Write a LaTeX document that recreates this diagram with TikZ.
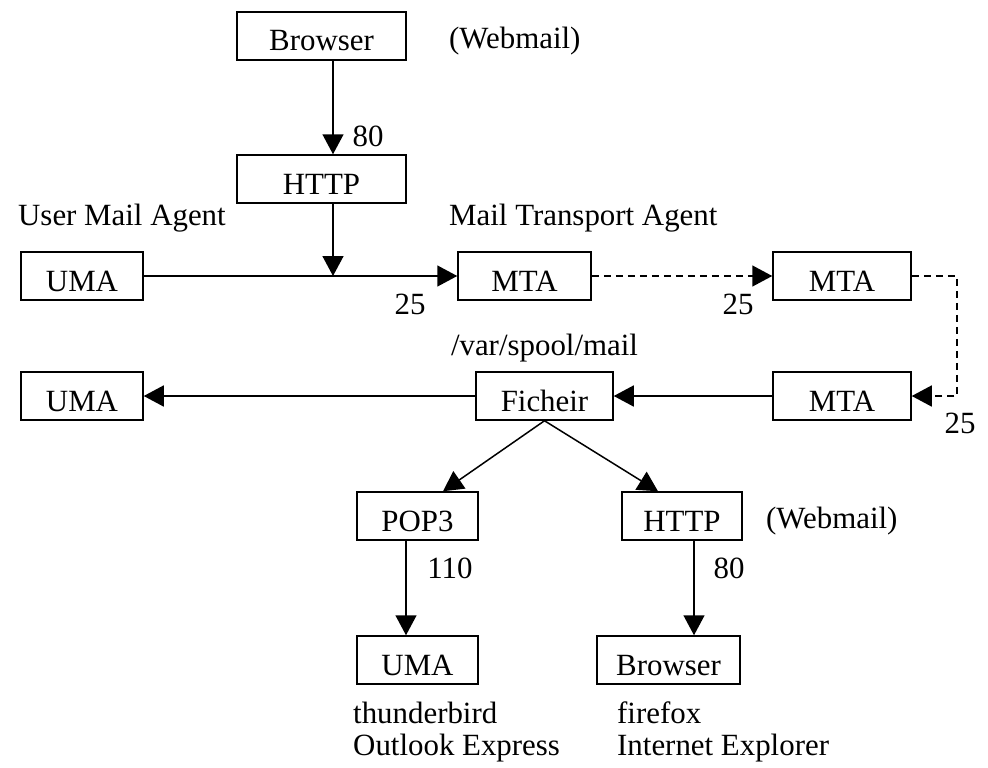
\documentclass[tikz,border=0pt]{standalone}
\usepackage{fontspec}
\setmainfont{Liberation Serif}
\usetikzlibrary{arrows.meta,positioning}

\tikzset{
  box/.style={draw, line width=1.5bp, minimum height=48bp, inner sep=0pt,
    text height=30bp, text depth=0pt},
  lbl/.style={inner sep=0pt},
  link/.style={line width=1.5bp, -{Triangle[length=20bp,width=21bp]}},
  relay/.style={link, dash pattern=on 7bp off 5bp},
}

\begin{document}
\begin{tikzpicture}[x=1bp, y=-1bp, font=\fontsize{31}{35}\selectfont]
        \useasboundingbox (0,0) rectangle (988,768);

        % webmail on top
        \node (browserA) [box, minimum width=169bp] at (321.5, 36) {Browser};
        \node (httpA) [box, minimum width=169bp] at (321.5, 179) {HTTP};
        \node (webA) [lbl, anchor=west] at (449, 41) {(Webmail)};
        \node (portA) [lbl] at (368, 136) {80};

        % sending side
        \node (umaA) [box, minimum width=122bp] at (82, 276) {UMA};
        \node (mtaA) [box, minimum width=133bp] at (524.5, 276) {MTA};
        \node (mtaB) [box, minimum width=138bp] at (842, 276) {MTA};
        \node (umaTxt) [lbl, anchor=west] at (18, 218) {User Mail Agent};
        \node (mtaTxt) [lbl, anchor=west] at (449, 218) {Mail Transport Agent};
        \node (portB) [lbl] at (410, 304) {25};
        \node (portC) [lbl] at (738, 304) {25};

        % delivery
        \node (umaB) [box, minimum width=122bp] at (82, 396) {UMA};
        \node (fich) [box, minimum width=137bp] at (544.5, 396) {Ficheir};
        \node (mtaC) [box, minimum width=138bp] at (842, 396) {MTA};
        \node (spool) [lbl, above=9bp of fich] {/var/spool/mail};
        \node (portD) [lbl] at (960, 423) {25};

        % reading the mail
        \node (pop) [box, minimum width=121bp] at (417.5, 516) {POP3};
        \node (httpB) [box, minimum width=120bp] at (682, 516) {HTTP};
        \node (webB) [lbl, anchor=west] at (766, 521) {(Webmail)};
        \node (portE) [lbl] at (450, 568) {110};
        \node (portF) [lbl] at (729, 568) {80};
        \node (umaC) [box, minimum width=121bp] at (417.5, 660) {UMA};
        \node (browserB) [box, minimum width=143bp] at (668.5, 660) {Browser};
        \node (thund) [lbl, anchor=west] at (353, 713) {thunderbird};
        \node (outlook) [lbl, anchor=west] at (353, 748) {Outlook Express};
        \node (ffox) [lbl, anchor=west] at (617, 713) {firefox};
        \node (iexp) [lbl, anchor=west] at (617, 748) {Internet Explorer};

        \coordinate (jA) at (333, 276);
        \coordinate (turn) at (957, 336);

        \draw[link] (browserA.south -| jA) -- (httpA.north -| jA);
        \draw[link] (httpA.south -| jA) -- (jA);
        \draw[link] (umaA.east) -- (mtaA.west);
        \draw[relay] (mtaA.east) -- (mtaB.west);
        \draw[relay] (mtaB.east) -| (turn) |- (mtaC.east);
        \draw[link] (mtaC.west) -- (fich.east);
        \draw[link] (fich.west) -- (umaB.east);
        \draw[link] (fich.south) -- ([xshift=25.5bp]pop.north);
        \draw[link] (fich.south) -- ([xshift=-24bp]httpB.north);
        \draw[link] ([xshift=-11.5bp]pop.south) -- ([xshift=-11.5bp]umaC.north);
        \draw[link] ([xshift=12bp]httpB.south) -- ([xshift=12bp]httpB.south |- browserB.north);
      \end{tikzpicture}
\end{document}
